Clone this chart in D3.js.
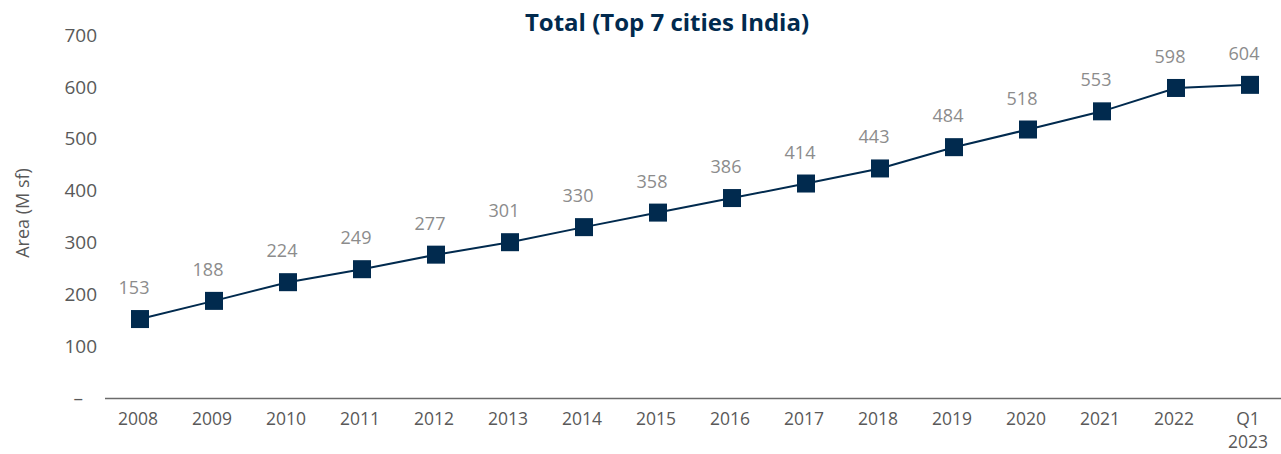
<!DOCTYPE html>
<html>
<head>
<meta charset="utf-8">
<script src="https://cdn.jsdelivr.net/npm/d3@7"></script>
<style>
  html, body { margin: 0; padding: 0; background: #fff; }
  svg { display: block; font-family: "Open Sans", sans-serif; }
</style>
</head>
<body>
<svg id="chart" width="1281" height="454"></svg>
<script>
// Cumulative stock, top 7 Indian cities (M sf)
const categories = ["2008","2009","2010","2011","2012","2013","2014","2015",
                    "2016","2017","2018","2019","2020","2021","2022","Q1 2023"];
const values = [153,188,224,249,277,301,330,358,386,414,443,484,518,553,598,604];
const yTicks = [0,100,200,300,400,500,600,700];

const navy = "#012a4e";
const axisGrey = "#595959";
const labelGrey = "#8c8c8c";

const svg = d3.select("#chart");

const x = d3.scaleBand().domain(categories).range([103, 1287]);
const y = d3.scaleLinear().domain([0, 700]).range([398.5, 35]);

// Title
svg.append("text")
  .attr("x", 667).attr("y", 31)
  .attr("text-anchor", "middle")
  .attr("font-size", 24).attr("font-weight", 700)
  .attr("fill", navy)
  .text("Total (Top 7 cities India)");

// Y axis (labels only)
const yAxis = svg.append("g")
  .attr("transform", "translate(97,0)")
  .call(d3.axisLeft(y).tickValues(yTicks).tickSize(0).tickPadding(0)
        .tickFormat(d => d === 0 ? "–" : d3.format("d")(d)));
yAxis.select(".domain").remove();
yAxis.selectAll("text")
  .attr("font-size", 19).attr("fill", axisGrey)
  .attr("font-family", "Open Sans, sans-serif")
  .attr("dx", d => d === 0 ? -14 : 0);

// Y axis title
svg.append("text")
  .attr("transform", "translate(29,213) rotate(-90)")
  .attr("text-anchor", "middle")
  .attr("font-size", 18).attr("fill", axisGrey)
  .text("Area (M sf)");

// X axis baseline
svg.append("line")
  .attr("x1", 105).attr("x2", 1281)
  .attr("y1", y(0)).attr("y2", y(0))
  .attr("stroke", "#6b6b6b").attr("stroke-width", 1.5);

// X tick labels, one text per word so two-line labels stack cleanly
const xLab = svg.append("g");
categories.forEach(c => {
  const cx = x(c) + x.bandwidth() / 2 - 2;
  c.split(" ").forEach((w, i) => {
    xLab.append("text")
      .attr("x", cx)
      .attr("y", 425 + i * 23)
      .attr("text-anchor", "middle")
      .attr("font-size", 17.5).attr("fill", axisGrey)
      .text(w);
  });
});

// Line
const line = d3.line()
  .x((d, i) => x(categories[i]) + x.bandwidth() / 2)
  .y(d => y(d));
svg.append("path")
  .datum(values)
  .attr("d", line)
  .attr("fill", "none")
  .attr("stroke", navy).attr("stroke-width", 2);

// Square markers
const m = 18;
svg.append("g").selectAll("rect")
  .data(values)
  .join("rect")
  .attr("x", (d, i) => x(categories[i]) + x.bandwidth() / 2 - m / 2)
  .attr("y", d => y(d) - m / 2)
  .attr("width", m).attr("height", m)
  .attr("fill", navy);

// Value labels
svg.append("g").selectAll("text")
  .data(values)
  .join("text")
  .attr("x", (d, i) => x(categories[i]) + x.bandwidth() / 2 - 6)
  .attr("y", d => y(d) - 25)
  .attr("text-anchor", "middle")
  .attr("font-size", 18).attr("fill", labelGrey)
  .text(d => d);
</script>
</body>
</html>
